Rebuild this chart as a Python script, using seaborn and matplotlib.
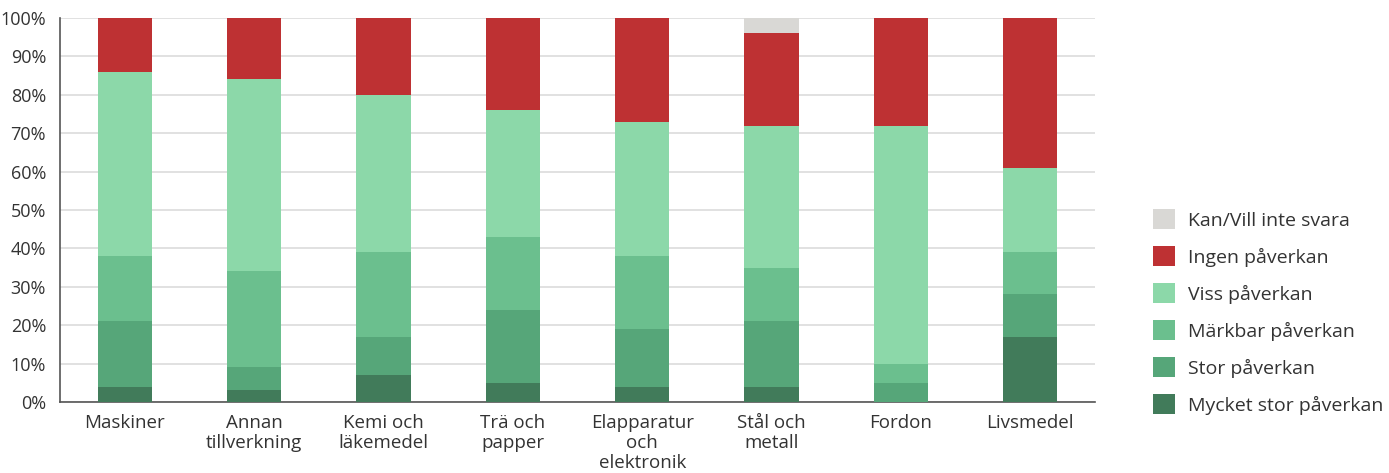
import matplotlib
matplotlib.use("Agg")
import matplotlib.pyplot as plt
from matplotlib.patches import Patch
import seaborn as sns
import pandas as pd
import numpy as np

categories = ["Maskiner", "Annan\ntillverkning", "Kemi och\nläkemedel", "Trä och\npapper",
              "Elapparatur\noch\nelektronik", "Stål och\nmetall", "Fordon", "Livsmedel"]

# Share of respondents (%) per answer, bottom to top of each stack
mycket_stor = [4, 3, 7, 5, 4, 4, 0, 17]
stor = [17, 6, 10, 19, 15, 17, 5, 11]
markbar = [17, 25, 22, 19, 19, 14, 5, 11]
viss = [48, 50, 41, 33, 35, 37, 62, 22]
ingen = [14, 16, 20, 24, 27, 24, 28, 39]
kan_vill_inte = [0, 0, 0, 0, 0, 4, 0, 0]

series = [
    ("Mycket stor påverkan", mycket_stor, "#417B5A"),
    ("Stor påverkan", stor, "#56A679"),
    ("Märkbar påverkan", markbar, "#6BBF8E"),
    ("Viss påverkan", viss, "#8CD8A9"),
    ("Ingen påverkan", ingen, "#BE3133"),
    ("Kan/Vill inte svara", kan_vill_inte, "#D9D8D5"),
]

sns.set_theme(style="white")
plt.rcParams["font.family"] = ["Open Sans", "DejaVu Sans"]

fig = plt.figure(figsize=(13.89, 4.73), dpi=100)
ax = fig.add_axes([60 / 1389, 1 - 402 / 473, 1035 / 1389, 384 / 473])

# Stacked bars: paint cumulative totals from the top layer down
cum = np.cumsum(np.array([s[1] for s in series]), axis=0)
for i in range(len(series) - 1, -1, -1):
    df = pd.DataFrame({"cat": categories, "val": cum[i]})
    sns.barplot(data=df, x="cat", y="val", color=series[i][2], saturation=1,
                width=0.42, ax=ax, zorder=3, linewidth=0)

ax.set_xlim(-0.5, 7.5)
ax.set_ylim(0, 100)
ax.set_yticks(range(0, 101, 10))
ax.set_yticklabels([f"{v}%" for v in range(0, 101, 10)])
ax.set_xlabel("")
ax.set_ylabel("")
ax.yaxis.grid(True, color="#DCDCDC", linewidth=1.2, zorder=0)
ax.set_axisbelow(True)
for side in ["top", "right"]:
    ax.spines[side].set_visible(False)
for side in ["left", "bottom"]:
    ax.spines[side].set_color("#555555")
    ax.spines[side].set_linewidth(1.2)
ax.tick_params(axis="both", length=0, colors="#333333")
ax.tick_params(axis="x", labelsize=13.5, pad=9)
ax.tick_params(axis="y", labelsize=13, pad=10)
for lbl in ax.get_xticklabels():
    lbl.set_linespacing(1.12)

handles = [Patch(facecolor=c, edgecolor="none", label=n) for n, _, c in reversed(series)]
fig.legend(handles=handles, loc="upper left", bbox_to_anchor=(1135 / 1389, 1 - 192 / 473),
           frameon=False, fontsize=14, handlelength=1.15, handleheight=1.15,
           handletextpad=0.65, labelspacing=0.86, labelcolor="#333333")

fig.savefig("out.png", dpi=100)
